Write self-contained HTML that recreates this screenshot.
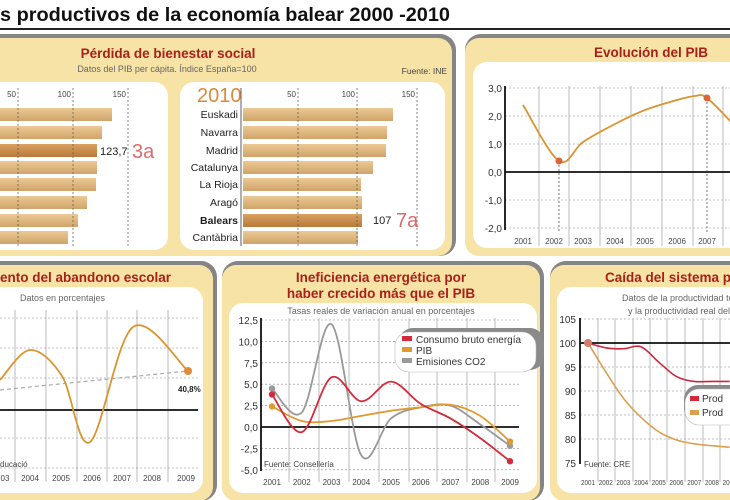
<!DOCTYPE html>
<html><head><meta charset="utf-8"><style>
html,body{margin:0;padding:0;background:#fff;width:730px;height:500px;overflow:hidden}
svg{display:block;font-family:"Liberation Sans",sans-serif}
</style></head><body>
<svg id="s" width="730" height="500" viewBox="0 0 730 500" xmlns="http://www.w3.org/2000/svg">
<defs>
<linearGradient id="bar" x1="0" y1="0" x2="0" y2="1"><stop offset="0" stop-color="#ecc994"/><stop offset="1" stop-color="#cfa46a"/></linearGradient>
<linearGradient id="barD" x1="0" y1="0" x2="0" y2="1"><stop offset="0" stop-color="#d9a060"/><stop offset="1" stop-color="#b97a3a"/></linearGradient>
</defs>
<rect width="730" height="500" fill="#fff"/>
<text x="0" y="21" font-size="19" font-weight="bold" fill="#111" textLength="450" lengthAdjust="spacingAndGlyphs">s productivos de la economía balear 2000 -2010</text>
<rect x="0" y="28" width="730" height="2" fill="#222"/>

<rect x="-20" y="34" width="476" height="222" rx="16" fill="#858585"/>
<rect x="-20" y="38" width="472" height="218" rx="14" fill="#f8e3a6"/>
<rect x="465" y="34" width="290" height="222" rx="16" fill="#858585"/>
<rect x="465" y="38" width="290" height="218" rx="14" fill="#f8e3a6"/>
<rect x="-20" y="261" width="237" height="240" rx="16" fill="#858585"/>
<rect x="-20" y="265" width="233" height="236" rx="14" fill="#f8e3a6"/>
<rect x="222" y="261" width="322" height="240" rx="16" fill="#858585"/>
<rect x="222" y="265" width="318" height="236" rx="14" fill="#f8e3a6"/>
<rect x="550" y="261" width="200" height="240" rx="16" fill="#858585"/>
<rect x="550" y="265" width="200" height="236" rx="14" fill="#f8e3a6"/>

<text x="168" y="58" font-size="13.5" font-weight="bold" fill="#a8201a" text-anchor="middle">Pérdida de bienestar social</text>
<text x="167" y="72" font-size="9" fill="#666" text-anchor="middle">Datos del PIB per cápita. Índice España=100</text>
<text x="447" y="74" font-size="8.5" fill="#444" text-anchor="end">Fuente: INE</text>
<rect x="-20" y="82" width="188" height="168" rx="14" fill="#fff"/>
<rect x="180" y="82" width="265" height="168" rx="14" fill="#fff"/>
<g id="p1"></g>

<text x="651" y="57" font-size="13.5" font-weight="bold" fill="#a8201a" text-anchor="middle">Evolución del PIB</text>
<rect x="473" y="62" width="270" height="186" rx="14" fill="#fff"/>
<g id="p2"></g>

<text x="0" y="282" font-size="13.5" font-weight="bold" fill="#a8201a">ento del abandono escolar</text>
<rect x="-20" y="287" width="223" height="206" rx="14" fill="#fff"/>
<text x="20" y="301" font-size="9" fill="#666">Datos en porcentajes</text>
<g id="p3"></g>

<text x="381" y="282" font-size="13.5" font-weight="bold" fill="#a8201a" text-anchor="middle">Ineficiencia energética por</text>
<text x="381" y="298" font-size="13.5" font-weight="bold" fill="#a8201a" text-anchor="middle">haber crecido más que el PIB</text>
<rect x="229" y="303" width="308" height="190" rx="14" fill="#fff"/>
<text x="381" y="314" font-size="9" fill="#666" text-anchor="middle">Tasas reales de variación anual en porcentajes</text>
<g id="p4"></g>

<text x="605" y="282" font-size="13.5" font-weight="bold" fill="#a8201a">Caída del sistema productivo</text>
<rect x="557" y="287" width="200" height="206" rx="14" fill="#fff"/>
<text x="622" y="301" font-size="9" fill="#666">Datos de la productividad total</text>
<text x="628" y="314" font-size="9" fill="#666">y la productividad real del trabajo</text>
<g id="p5"></g>
</svg>
<script>
var NS="http://www.w3.org/2000/svg";
function el(p,t,a,txt){var e=document.createElementNS(NS,t);for(var k in a)e.setAttribute(k,a[k]);if(txt!==undefined)e.textContent=txt;document.getElementById(p).appendChild(e);return e;}
function smooth(pts){var d="M"+pts[0][0]+","+pts[0][1];for(var i=0;i<pts.length-1;i++){var p0=pts[i-1]||pts[i],p1=pts[i],p2=pts[i+1],p3=pts[i+2]||p2;var c1x=p1[0]+(p2[0]-p0[0])/6,c1y=p1[1]+(p2[1]-p0[1])/6,c2x=p2[0]-(p3[0]-p1[0])/6,c2y=p2[1]-(p3[1]-p1[1])/6;d+=" C"+c1x+","+c1y+" "+c2x+","+c2y+" "+p2[0]+","+p2[1];}return d;}
var ys=[114,132,150,167,184,202,220,237];
var lEnd=[112,102,97,97,96,87,78,68];
lEnd.forEach(function(e,i){el("p1","rect",{x:-20,y:ys[i]-6,width:e+20,height:13,fill:i==2?"url(#barD)":"url(#bar)"});});
[[18,"50"],[73,"100"],[128,"150"]].forEach(function(t){el("p1","line",{x1:t[0],y1:88,x2:t[0],y2:246,stroke:"#555","stroke-width":0.7,"stroke-dasharray":"2,2"});el("p1","text",{x:t[0]-2,y:97,"font-size":8,fill:"#444","text-anchor":"end"},t[1]);});
el("p1","text",{x:100,y:155,"font-size":11,fill:"#222"},"123,7");
el("p1","text",{x:132,y:158,"font-size":20,fill:"#e06a6a"},"3a");
var names=["Euskadi","Navarra","Madrid","Catalunya","La Rioja","Aragó","Balears","Cantàbria"];
var rEnd=[393,387,386,373,361,362,362,358];
rEnd.forEach(function(e,i){el("p1","rect",{x:243,y:ys[i]-6,width:e-243,height:13,fill:i==6?"url(#barD)":"url(#bar)"});el("p1","text",{x:238,y:ys[i]+4,"font-size":10.5,fill:"#222","text-anchor":"end","font-weight":i==6?"bold":"normal"},names[i]);});
el("p1","line",{x1:241,y1:88,x2:241,y2:246,stroke:"#333","stroke-width":0.8});
[[298,"50"],[357,"100"],[417,"150"]].forEach(function(t){el("p1","line",{x1:t[0],y1:88,x2:t[0],y2:246,stroke:"#555","stroke-width":0.7,"stroke-dasharray":"2,2"});el("p1","text",{x:t[0]-2,y:97,"font-size":8,fill:"#444","text-anchor":"end"},t[1]);});
el("p1","text",{x:197,y:102,"font-size":20,fill:"#d98a3a"},"2010");
el("p1","text",{x:373,y:224,"font-size":11,fill:"#222"},"107");
el("p1","text",{x:396,y:227,"font-size":20,fill:"#e06a6a"},"7a");
(function(){var y=function(v){return 172-28*v;};
[3,2,1,-1,-2].forEach(function(v){el("p2","line",{x1:505,y1:y(v),x2:740,y2:y(v),stroke:"#888","stroke-width":0.6,"stroke-dasharray":"2,2"});});
[539,569,600,631,662,693,723].forEach(function(x){el("p2","line",{x1:x,y1:86,x2:x,y2:246,stroke:"#bbb","stroke-width":1});});
el("p2","line",{x1:505,y1:y(0),x2:740,y2:y(0),stroke:"#111","stroke-width":1.8});
el("p2","line",{x1:505,y1:86,x2:505,y2:230,stroke:"#111","stroke-width":1.8});
[3,2,1,0,-1,-2].forEach(function(v){el("p2","text",{x:502,y:y(v)+4,"font-size":10,fill:"#333","text-anchor":"end"},v.toFixed(1).replace(".",","));});
var xs=[523,554,583,615,645,677,707];
xs.forEach(function(x,i){el("p2","text",{x:x,y:244,"font-size":8,fill:"#444","text-anchor":"middle"},2001+i);});
el("p2","line",{x1:559,y1:161,x2:559,y2:232,stroke:"#555","stroke-width":0.8,"stroke-dasharray":"2,2"});
el("p2","line",{x1:707,y1:98,x2:707,y2:232,stroke:"#555","stroke-width":0.8,"stroke-dasharray":"2,2"});
el("p2","path",{d:smooth([[523,105],[559,161],[583,142],[615,124],[645,110],[677,100],[695,96],[707,98],[735,126]]),fill:"none",stroke:"#d9952f","stroke-width":1.8});
el("p2","circle",{cx:559,cy:161,r:3.5,fill:"#d8663a"});el("p2","circle",{cx:707,cy:98,r:3.5,fill:"#d8663a"});
})();
(function(){
[15,46,77,107,137,168].forEach(function(x){el("p3","line",{x1:x,y1:310,x2:x,y2:482,stroke:"#bbb","stroke-width":1});});
[318,348,378,438,468].forEach(function(y){el("p3","line",{x1:0,y1:y,x2:198,y2:y,stroke:"#888","stroke-width":0.6,"stroke-dasharray":"2,2"});});
el("p3","line",{x1:0,y1:410,x2:198,y2:410,stroke:"#111","stroke-width":1.8});
el("p3","line",{x1:0,y1:390,x2:188,y2:371,stroke:"#aaa","stroke-width":1.2,"stroke-dasharray":"4,3"});
el("p3","path",{d:smooth([[0,380],[30,350],[62,376],[90,442],[133,327],[188,371]]),fill:"none",stroke:"#d9952f","stroke-width":1.8});
el("p3","circle",{cx:188,cy:371,r:4,fill:"#e08a3a"});
el("p3","text",{x:178,y:392,"font-size":8,"font-weight":"bold",fill:"#222"},"40,8%");
el("p3","text",{x:0,y:467,"font-size":8,fill:"#444"},"ducació");
[[5,"03"],[30,"2004"],[61,"2005"],[92,"2006"],[122,"2007"],[152,"2008"],[186,"2009"]].forEach(function(t){el("p3","text",{x:t[0],y:481,"font-size":8,fill:"#444","text-anchor":"middle"},t[1]);});
})();
(function(){var y=function(v){return 427-8.56*v;};var X=function(i){return 272+29.75*i;};
[12.5,10,7.5,5,2.5,-2.5,-5].forEach(function(v){el("p4","line",{x1:261,y1:y(v),x2:519,y2:y(v),stroke:"#888","stroke-width":0.6,"stroke-dasharray":"2,2"});});
[289,319,349,379,409,437,467,495].forEach(function(x){el("p4","line",{x1:x,y1:318,x2:x,y2:482,stroke:"#bbb","stroke-width":1});});
el("p4","line",{x1:261,y1:y(0),x2:519,y2:y(0),stroke:"#111","stroke-width":1.8});
el("p4","line",{x1:261,y1:318,x2:261,y2:471,stroke:"#111","stroke-width":1.8});
[12.5,10,7.5,5,2.5,0,-2.5,-5].forEach(function(v){el("p4","text",{x:258,y:y(v)+4,"font-size":10,fill:"#333","text-anchor":"end"},v.toFixed(1).replace(".",","));});
for(var i=0;i<9;i++)el("p4","text",{x:X(i),y:485,"font-size":8,fill:"#444","text-anchor":"middle"},2001+i);
el("p4","text",{x:264,y:467,"font-size":8,fill:"#444"},"Fuente: Consellería");
var S=[["#999",[4.5,1.7,12,-3.3,1,2.3,2.5,0.3,-2.2]],["#e09a30",[2.4,0.7,0.7,1.3,1.9,2.3,2.6,1.3,-1.7]],["#d42a3a",[3.8,-0.6,5.8,3.0,5.3,2.7,1.0,-1.3,-4.0]]];
S.forEach(function(s){var pts=s[1].map(function(v,i){return [X(i),y(v)];});el("p4","path",{d:smooth(pts),fill:"none",stroke:s[0],"stroke-width":1.8});el("p4","circle",{cx:pts[0][0],cy:pts[0][1],r:3.2,fill:s[0]});el("p4","circle",{cx:pts[8][0],cy:pts[8][1],r:3.2,fill:s[0]});});
el("p4","rect",{x:399,y:328,width:145,height:42,rx:14,fill:"#8a8a8a"});
el("p4","rect",{x:395,y:332,width:141,height:40,rx:14,fill:"#fff",stroke:"#bbb","stroke-width":0.6});
[["#d42a3a","Consumo bruto energía",341],["#e09a30","PIB",352],["#999","Emisiones CO2",363]].forEach(function(t){el("p4","rect",{x:402,y:t[2]-5,width:10,height:5,fill:t[0]});el("p4","text",{x:416,y:t[2]+2,"font-size":10,fill:"#333"},t[1]);});
})();
(function(){var y=function(v){return 343-(v-100)*4.8;};var X=function(i){return 588+17.7*i;};
[105,95,90,85,80].forEach(function(v){el("p5","line",{x1:580,y1:y(v),x2:740,y2:y(v),stroke:"#888","stroke-width":0.6,"stroke-dasharray":"2,2"});});
[598,615,633,650,667,685,703,720].forEach(function(x){el("p5","line",{x1:x,y1:318,x2:x,y2:482,stroke:"#bbb","stroke-width":1});});
el("p5","line",{x1:580,y1:y(100),x2:740,y2:y(100),stroke:"#111","stroke-width":1.8});
el("p5","line",{x1:580,y1:318,x2:580,y2:464,stroke:"#111","stroke-width":1.8});
[105,100,95,90,85,80,75].forEach(function(v){el("p5","text",{x:576,y:y(v)+4,"font-size":10,fill:"#333","text-anchor":"end"},v);});
for(var i=0;i<9;i++)el("p5","text",{x:X(i)-7,y:485,"font-size":7.5,fill:"#444",textLength:14,lengthAdjust:"spacingAndGlyphs"},2001+i);
el("p5","text",{x:584,y:467,"font-size":8,fill:"#444"},"Fuente: CRE");
var o=[100,94,88.5,84.5,81.5,79.8,79,78.6,78.3].map(function(v,i){return [X(i),y(v)];});
var r=[100,99,98.8,99.2,96,93,92,92,92].map(function(v,i){return [X(i),y(v)];});
el("p5","path",{d:smooth(o),fill:"none",stroke:"#d9a050","stroke-width":1.6});
el("p5","path",{d:smooth(r),fill:"none",stroke:"#c8283c","stroke-width":1.6});
el("p5","circle",{cx:588,cy:343,r:4,fill:"#d77a6a"});
el("p5","rect",{x:684,y:385,width:60,height:38,rx:14,fill:"#8a8a8a"});
el("p5","rect",{x:685,y:389,width:60,height:36,rx:14,fill:"#fff",stroke:"#bbb","stroke-width":0.6});
el("p5","rect",{x:690,y:396,width:9,height:5,fill:"#d42a3a"});el("p5","text",{x:702,y:402,"font-size":10,fill:"#333"},"Prod");
el("p5","rect",{x:690,y:410,width:9,height:5,fill:"#d9a050"});el("p5","text",{x:702,y:416,"font-size":10,fill:"#333"},"Prod");
})();
</script>
</body></html>
